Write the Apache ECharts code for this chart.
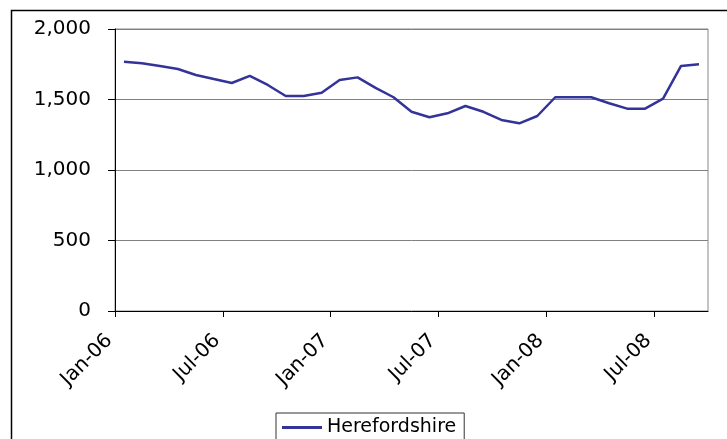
<!DOCTYPE html>
<html>
<head>
<meta charset="utf-8">
<script src="https://cdn.jsdelivr.net/npm/echarts@6/dist/echarts.min.js"></script>
<style>
html,body{margin:0;padding:0;background:#fff;}
#chart{width:727px;height:439px;}
</style>
</head>
<body>
<div id="chart"></div>
<script>
// Monthly categories Jan-06 .. Sep-08
var months = ['Jan-06','Feb-06','Mar-06','Apr-06','May-06','Jun-06','Jul-06','Aug-06','Sep-06','Oct-06','Nov-06','Dec-06',
              'Jan-07','Feb-07','Mar-07','Apr-07','May-07','Jun-07','Jul-07','Aug-07','Sep-07','Oct-07','Nov-07','Dec-07',
              'Jan-08','Feb-08','Mar-08','Apr-08','May-08','Jun-08','Jul-08','Aug-08','Sep-08'];
var herefordshire = [1768,1757,1738,1716,1674,1645,1617,1667,1603,1525,1525,1548,
                     1638,1657,1582,1516,1413,1374,1402,1454,1413,1355,1331,1383,
                     1516,1516,1516,1473,1435,1435,1506,1738,1750];
var xTickLabels = ['Jan-06','Jul-06','Jan-07','Jul-07','Jan-08','Jul-08'];
var yTicks = [0,500,1000,1500,2000];
var seriesName = 'Herefordshire';

var tickPos = xTickLabels.map(function(l){ return months.indexOf(l); });
var seriesData = herefordshire.map(function(v,i){ return [i + 0.5, v]; });

var chart = echarts.init(document.getElementById('chart'), null, {renderer:'canvas'});
var font = 'DejaVu Sans';
chart.setOption({
  animation:false,
  backgroundColor:'#fff',
  graphic:[{
    type:'rect', shape:{x:11.5, y:10.5, width:800, height:500},
    style:{fill:null, stroke:'#000', lineWidth:1.5}, silent:true, z:-1
  }],
  grid:{left:115, top:29, right:19, bottom:128, show:true, borderColor:'#888', borderWidth:1, backgroundColor:'transparent'},
  xAxis:{
    type:'value', min:0, max:months.length,
    axisLine:{show:true, onZero:false, lineStyle:{color:'#000', width:1}},
    axisTick:{show:true, length:6, customValues:tickPos, lineStyle:{color:'#000'}},
    axisLabel:{customValues:tickPos, rotate:45, margin:21, padding:[0,8,0,0], fontFamily:font, fontSize:20, color:'#000',
      formatter:function(v){ return months[Math.round(v)] || ''; }},
    splitLine:{show:false}
  },
  yAxis:{
    type:'value', min:0, max:2000, interval:500,
    axisLine:{show:true, lineStyle:{color:'#000', width:1}},
    axisTick:{show:true, length:7, lineStyle:{color:'#000'}},
    axisLabel:{margin:24, fontFamily:font, fontSize:20, color:'#000',
      formatter:function(v){ return v.toLocaleString('en-US'); }},
    splitLine:{show:true, lineStyle:{color:'#808080', width:1}}
  },
  legend:{
    show:true, left:276, top:413, orient:'horizontal',
    borderColor:'#333', borderWidth:1, padding:[5,8,8,6],
    itemWidth:40, itemHeight:3, itemGap:5, icon:'rect',
    textStyle:{fontFamily:font, fontSize:19, color:'#000'},
    data:[seriesName]
  },
  series:[{
    name:seriesName, type:'line', data:seriesData,
    symbol:'none', lineStyle:{color:'#333399', width:2.5}, itemStyle:{color:'#333399'}
  }]
});
</script>
</body>
</html>
